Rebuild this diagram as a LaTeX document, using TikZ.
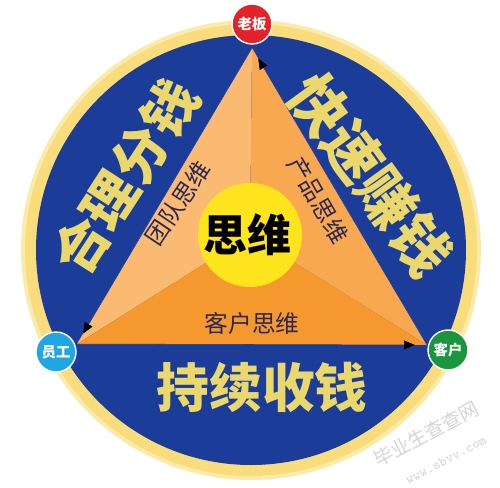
\documentclass[tikz,border=0pt]{standalone}
\usepackage{fontspec}
\newfontfamily\cjk{Noto Sans CJK SC}
\usetikzlibrary{arrows.meta}
\definecolor{ringgold}{RGB}{249,221,124}
\definecolor{ringpale}{RGB}{252,234,170}
\definecolor{deepblue}{RGB}{27,60,152}
\definecolor{peach}{RGB}{250,186,114}
\definecolor{midorange}{RGB}{248,168,80}
\definecolor{darkorange}{RGB}{245,153,46}
\definecolor{sunyellow}{RGB}{253,228,28}
\definecolor{goldtext}{RGB}{234,216,108}
\definecolor{navytext}{RGB}{42,40,82}
\definecolor{bossred}{RGB}{226,36,42}
\definecolor{staffblue}{RGB}{32,166,226}
\definecolor{clientgreen}{RGB}{26,150,62}

\tikzset{
  rolebadge/.style={circle, draw=white, line width=0.8pt, inner sep=0pt,
    minimum size=0.8cm, text=white, font=\cjk\bfseries\fontsize{8.2}{8.2}\selectfont},
  bigword/.style={text=goldtext, inner sep=0pt, font=\cjk\bfseries\fontsize{31}{31}\selectfont},
  smallword/.style={text=navytext, inner sep=0pt, font=\cjk\fontsize{13.5}{13.5}\selectfont},
  flow/.style={draw=deepblue, line width=0.3pt, shorten >=7pt,
    -{Triangle[length=6pt,width=5pt,black]}},
  stamp/.style={text=black!16, inner sep=0pt, rotate=28}
}

\begin{document}
\begin{tikzpicture}[x=0.02cm,y=-0.02cm]
        \useasboundingbox (0,0) rectangle (500,487);
        \fill[white] (0,0) rectangle (500,487);
        % ring and disc
        \def\cx{251}
        \def\cy{250}
        \fill[ringpale] (\cx,\cy) circle (230);
        \fill[ringgold] (\cx,\cy) circle (226);
        \fill[deepblue] (\cx,\cy) circle (215);

        % triangle corners and its centre
        \coordinate (top) at (252,48);
        \coordinate (lft) at (77,344);
        \coordinate (rgt) at (427,345);
        \coordinate (mid) at (250,235);
        \fill[peach] (top) -- (lft) -- (mid) -- cycle;
        \fill[midorange] (top) -- (rgt) -- (mid) -- cycle;
        \fill[darkorange] (lft) -- (rgt) -- (mid) -- cycle;

        % the cycle
        \draw[flow] (lft) -- (rgt);
        \draw[flow] (rgt) -- (top);
        \draw[flow] (top) -- (lft);

        \node[circle, fill=sunyellow, minimum size=2.08cm, inner sep=0pt] (core) at (mid) {};
        \node[font=\cjk\bfseries\fontsize{25}{25}\selectfont] (coretxt) at (247,235) {思维};

        \node[smallword, rotate=56] (team) at (178,203) {团队思维};
        \node[smallword, rotate=-60] (product) at (318,200) {产品思维};
        \node[smallword] (client) at (252,323) {客户思维};

        \node[bigword, rotate=57] (share) at (125,177) {合理分钱};
        \node[bigword, rotate=-54, font=\cjk\bfseries\fontsize{33}{33}\selectfont] (earn) at (370,175) {快速赚钱};
        \node[bigword, font=\cjk\bfseries\fontsize{30}{30}\selectfont] (collect) at (262,387) {持续收钱};

        \node[rolebadge, fill=bossred] (boss) at (252,24) {老板};
        \node[rolebadge, fill=staffblue] (staff) at (56,352) {员工};
        \node[rolebadge, fill=clientgreen] (customer) at (448,350) {客户};

        \node[stamp, font=\cjk\fontsize{11}{11}\selectfont] (mark) at (426,434) {毕业生查查网};
        \node[stamp, font=\ttfamily\fontsize{8}{8}\selectfont] (site) at (446,460) {www.sbvv.com};
\end{tikzpicture}
\end{document}
